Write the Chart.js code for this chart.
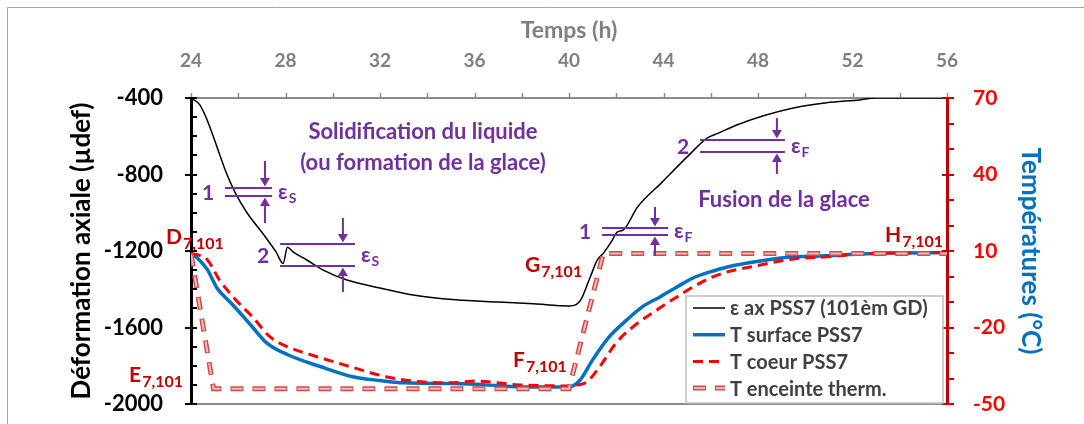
<!DOCTYPE html>
<html><head><meta charset="utf-8">
<script src="https://cdn.jsdelivr.net/npm/chart.js@4.4.1/dist/chart.umd.min.js"></script>
<style>html,body{margin:0;padding:0;background:#fff}#wrap{width:1084px;height:424px;position:relative}</style>
</head><body><div id="wrap"><canvas id="c" width="1084" height="424"></canvas></div>
<script>
// ---------- DATA ----------
const timeTicks  = [24, 28, 32, 36, 40, 44, 48, 52, 56];
const strainTicks = [-2000, -1600, -1200, -800, -400];
const tempTicks  = [-50, -20, 10, 40, 70];

const strainTime   = [24.0, 24.38, 24.7, 25.1, 25.48, 25.86, 26.37, 27.05, 27.6, 27.9, 28.08, 28.32, 28.9, 29.6, 30.6, 32.0, 33.4, 35.2, 37.0, 38.5, 40.0, 40.3, 40.5, 40.9, 41.2, 41.46, 41.8, 42.05, 42.3, 42.9, 43.9, 45.0, 45.86, 46.3, 47.1, 48.3, 49.5, 50.9, 52.3, 53.0, 56.0];
const strainValues = [-400, -437, -520, -656, -787, -892, -1000, -1110, -1205, -1265, -1180, -1205, -1247, -1300, -1352, -1393, -1430, -1455, -1467, -1476, -1487, -1480, -1456, -1336, -1247, -1211, -1150, -1100, -1090, -970, -845, -708, -609, -585, -541, -490, -452, -425, -410, -400, -400];

const surfTime   = [24.0, 24.3, 24.7, 25.1, 25.65, 26.1, 26.6, 27.2, 28.1, 29.5, 30.9, 32.0, 33.0, 35.1, 36.5, 37.9, 40.0, 40.47, 41.0, 41.7, 42.45, 43.1, 43.85, 44.57, 45.25, 45.97, 46.7, 48.1, 49.5, 50.9, 52.3, 53.7, 56.0];
const surfValues = [9, 7, 2.6, -4.5, -10, -14.5, -19.8, -26, -30.7, -35.4, -39.4, -40.8, -41.7, -42, -42.5, -43.3, -43.3, -40.6, -32.7, -23.7, -17, -11.9, -8, -4.1, -0.6, 1.8, 3.75, 6.1, 7.7, 8.1, 8.8, 9.2, 9.4];

const coreTime   = [24.0, 24.3, 24.7, 25.2, 25.9, 26.6, 27.35, 28.1, 29.5, 30.9, 32.3, 33.7, 35.1, 36.0, 37.9, 40.06, 40.4, 40.76, 41.3, 42.0, 42.7, 43.85, 44.57, 45.25, 45.97, 46.7, 48.1, 49.5, 50.9, 52.3, 53.7, 56.0];
const coreValues = [9, 8.5, 6.5, -1.3, -9.2, -15.8, -23.7, -27.6, -31.9, -35.8, -39.4, -41.3, -41.7, -41.0, -42.5, -42.9, -42.5, -41.3, -35.4, -26, -19.8, -12.3, -8, -4.1, -0.6, 1.8, 4.5, 6.9, 7.7, 8.8, 9.2, 9.4];

const chamberTime   = [24.0, 24.95, 40.0, 41.45, 56.0];
const chamberValues = [9, -44, -44, 9, 9];

const seriesLabels = ['ε ax PSS7 (101èm GD)', 'T surface PSS7', 'T coeur PSS7', 'T enceinte therm.'];

// ---------- ANNOTATIONS (data coords: time, strain) ----------
const brackets = [
  {num:'1', sub:'S', t1:25.44, t2:27.43, sTop:-871,  sBot:-912,  tArrow:27.13, len:27},
  {num:'2', sub:'S', t1:27.77, t2:30.94, sTop:-1163, sBot:-1278, tArrow:30.43, len:26},
  {num:'2', sub:'F', t1:45.55, t2:49.14, sTop:-620,  sBot:-682,  tArrow:48.80, len:22},
  {num:'1', sub:'F', t1:41.40, t2:44.19, sTop:-1080, sBot:-1116, tArrow:43.64, len:21}
];
const notes = [
  {text:'Solidification du liquide', t:33.82, s:-578},
  {text:'(ou formation de la glace)', t:33.82, s:-740},
  {text:'Fusion de la glace', t:49.10, s:-933}
];
const points = [
  {letter:'D', t:22.94, s:-1163},
  {letter:'E', t:21.38, s:-1885},
  {letter:'F', t:37.63, s:-1807},
  {letter:'G', t:38.14, s:-1310},
  {letter:'H', t:53.38, s:-1153}
];

const FONT = "Lato, 'Open Sans', 'DejaVu Sans', sans-serif";
const PURPLE = '#7030A0', DARKRED = '#C00000';
const toPts = (xs, ys) => xs.map((x, i) => ({x: x, y: ys[i]}));

const decor = {
  id: 'decor',
  beforeDraw(chart) {
    const ctx = chart.ctx;
    ctx.save();
    ctx.strokeStyle = '#a6a6a6'; ctx.lineWidth = 1;
    ctx.beginPath(); ctx.moveTo(7.5, 424); ctx.lineTo(7.5, 7.5); ctx.lineTo(1084, 7.5); ctx.stroke();
    ctx.restore();
  },
  afterDraw(chart) {
    const ctx = chart.ctx, ca = chart.chartArea;
    const X = chart.scales.x, Y = chart.scales.y, Y2 = chart.scales.y2;
    ctx.save();
    // top ticks
    ctx.strokeStyle = '#8c8c8c'; ctx.lineWidth = 1.5;
    for (let t = 24; t <= 56; t += 2) {
      const px = Math.round(X.getPixelForValue(t)) + 0.5;
      ctx.beginPath(); ctx.moveTo(px, ca.top); ctx.lineTo(px, ca.top - 5); ctx.stroke();
    }
    // left ticks
    ctx.strokeStyle = '#000'; ctx.lineWidth = 2;
    for (let v = -2000; v <= -400; v += 100) {
      const py = Math.round(Y.getPixelForValue(v));
      const major = (v % 400 === 0);
      ctx.beginPath(); ctx.moveTo(ca.left - (major ? 6 : 0), py); ctx.lineTo(ca.left + 6, py); ctx.stroke();
    }
    // right ticks
    ctx.strokeStyle = DARKRED; ctx.lineWidth = 2;
    for (let v = -50; v <= 70; v += 10) {
      const py = Math.round(Y2.getPixelForValue(v));
      const major = ((v + 50) % 30 === 0);
      ctx.beginPath(); ctx.moveTo(ca.right - (major ? 5 : 0), py); ctx.lineTo(ca.right + 7, py); ctx.stroke();
    }
    // brackets
    ctx.strokeStyle = PURPLE; ctx.fillStyle = PURPLE; ctx.lineWidth = 2;
    brackets.forEach(b => {
      const x1 = X.getPixelForValue(b.t1), x2 = X.getPixelForValue(b.t2);
      const yT = Y.getPixelForValue(b.sTop), yB = Y.getPixelForValue(b.sBot);
      const ax = X.getPixelForValue(b.tArrow);
      ctx.beginPath();
      ctx.moveTo(x1, yT); ctx.lineTo(x2, yT);
      ctx.moveTo(x1, yB); ctx.lineTo(x2, yB);
      ctx.moveTo(ax, yT - b.len); ctx.lineTo(ax, yT - 8);
      ctx.moveTo(ax, yB + b.len); ctx.lineTo(ax, yB + 8);
      ctx.stroke();
      ctx.beginPath();
      ctx.moveTo(ax, yT - 1.5); ctx.lineTo(ax - 5, yT - 10); ctx.lineTo(ax + 5, yT - 10); ctx.closePath(); ctx.fill();
      ctx.beginPath();
      ctx.moveTo(ax, yB + 1.5); ctx.lineTo(ax - 5, yB + 10); ctx.lineTo(ax + 5, yB + 10); ctx.closePath(); ctx.fill();
      const ym = (yT + yB) / 2;
      ctx.textBaseline = 'middle';
      ctx.font = 'bold 21px ' + FONT; ctx.textAlign = 'center';
      ctx.fillText(b.num, x1 - 17, ym + 1);
      ctx.textAlign = 'left';
      ctx.font = 'bold 21px ' + FONT;
      ctx.fillText('ε', x2 + 6, ym);
      const w = ctx.measureText('ε').width;
      ctx.font = 'bold 14px ' + FONT; ctx.textBaseline = 'alphabetic';
      ctx.fillText(b.sub, x2 + 7 + w, ym + 11);
    });
    // notes
    ctx.font = 'bold 22px ' + FONT; ctx.textAlign = 'center'; ctx.textBaseline = 'middle';
    notes.forEach(n => ctx.fillText(n.text, X.getPixelForValue(n.t), Y.getPixelForValue(n.s)));
    // point labels
    ctx.fillStyle = DARKRED; ctx.textAlign = 'left'; ctx.textBaseline = 'alphabetic';
    points.forEach(p => {
      const px = X.getPixelForValue(p.t), py = Y.getPixelForValue(p.s);
      ctx.font = 'bold 21px ' + FONT;
      ctx.fillText(p.letter, px, py);
      const w = ctx.measureText(p.letter).width;
      ctx.font = 'bold 16px ' + FONT;
      ctx.fillText('7,101', px + w + 1, py + 5);
    });
    // legend
    const L = {x: ca.right - 261, y: ca.bottom - 108, w: 257, h: 107};
    ctx.fillStyle = '#fff'; ctx.fillRect(L.x, L.y, L.w, L.h);
    ctx.strokeStyle = '#bfbfbf'; ctx.lineWidth = 1.5; ctx.strokeRect(L.x, L.y, L.w, L.h);
    const ds = chart.data.datasets;
    seriesLabels.forEach((lab, i) => {
      const cy = L.y + 12 + i * 26.7;
      const d = ds[i];
      const xs = L.x + 7, xe = L.x + 39;
      ctx.lineCap = 'butt';
      ctx.strokeStyle = d.borderColor; ctx.lineWidth = d.borderWidth;
      ctx.setLineDash(d.borderDash || []); ctx.lineDashOffset = 0;
      ctx.beginPath(); ctx.moveTo(xs, cy); ctx.lineTo(xe, cy); ctx.stroke();
      if (i === 3) {
        const inner = ds[4];
        ctx.strokeStyle = inner.borderColor; ctx.lineWidth = inner.borderWidth;
        ctx.setLineDash(inner.borderDash); ctx.lineDashOffset = inner.borderDashOffset;
        ctx.beginPath(); ctx.moveTo(xs, cy); ctx.lineTo(xe, cy); ctx.stroke();
      }
      ctx.setLineDash([]); ctx.lineDashOffset = 0;
      ctx.fillStyle = '#404040'; ctx.font = 'bold 20px ' + FONT; ctx.textBaseline = 'middle';
      ctx.fillText(lab, L.x + 44, cy + 1);
    });
    ctx.restore();
  }
};

const tickSetter = arr => s => { s.ticks = arr.map(v => ({value: v})); };
const plain = v => String(v);
const fitV = w => s => { s.width = w; s.paddingTop = 0; s.paddingBottom = 0; };
const fitH = h => s => { s.height = h; s.paddingLeft = 0; s.paddingRight = 0; };

new Chart(document.getElementById('c'), {
  type: 'line',
  data: {
    datasets: [
      {label: seriesLabels[0], data: toPts(strainTime, strainValues), yAxisID: 'y', borderColor: '#000000', borderWidth: 1.5, pointRadius: 0, cubicInterpolationMode: 'monotone', order: 5},
      {label: seriesLabels[1], data: toPts(surfTime, surfValues), yAxisID: 'y2', borderColor: '#0070C0', borderWidth: 3.5, pointRadius: 0, cubicInterpolationMode: 'monotone', order: 4},
      {label: seriesLabels[2], data: toPts(coreTime, coreValues), yAxisID: 'y2', borderColor: '#FF0000', borderWidth: 3, borderDash: [10, 6], pointRadius: 0, cubicInterpolationMode: 'monotone', order: 3},
      {label: seriesLabels[3], data: toPts(chamberTime, chamberValues), yAxisID: 'y2', borderColor: '#d24b4b', borderWidth: 5, borderDash: [13, 9], pointRadius: 0, tension: 0, order: 2},
      {label: '', data: toPts(chamberTime, chamberValues), yAxisID: 'y2', borderColor: '#f6b9b9', borderWidth: 2, borderDash: [11, 11], borderDashOffset: -1, pointRadius: 0, tension: 0, order: 1}
    ]
  },
  options: {
    responsive: false, animation: false, devicePixelRatio: 1,
    layout: {padding: {left: 66, right: 38, top: 17, bottom: 0}},
    plugins: {legend: {display: false}, tooltip: {enabled: false}},
    scales: {
      x: {type: 'linear', position: 'top', min: 24, max: 56,
          afterBuildTicks: tickSetter(timeTicks), afterFit: fitH(81),
          grid: {display: false, drawTicks: false},
          border: {display: true, color: '#8c8c8c', width: 2},
          ticks: {color: '#7f7f7f', padding: 26, callback: plain, font: {family: FONT, size: 19, weight: 'bold'}},
          title: {display: true, text: 'Temps (h)', color: '#7f7f7f', padding: 0, font: {family: FONT, size: 23, weight: 'bold'}}},
      xb: {type: 'linear', position: 'bottom', min: 24, max: 56,
          afterFit: fitH(20),
          grid: {display: false, drawTicks: false}, ticks: {display: false},
          border: {display: true, color: '#8c8c8c', width: 2}},
      y: {type: 'linear', position: 'left', min: -2000, max: -400,
          afterBuildTicks: tickSetter(strainTicks), afterFit: fitV(125),
          grid: {display: false, drawTicks: false},
          border: {display: true, color: '#000000', width: 3},
          ticks: {color: '#000000', padding: 28, callback: plain, font: {family: FONT, size: 22, weight: 'bold'}},
          title: {display: true, text: 'Déformation axiale (µdef)', color: '#000000', padding: 0, font: {family: FONT, size: 26, weight: 'bold'}}},
      y2: {type: 'linear', position: 'right', min: -50, max: 70,
          afterBuildTicks: tickSetter(tempTicks), afterFit: fitV(99),
          grid: {display: false, drawTicks: false},
          border: {display: true, color: DARKRED, width: 3},
          ticks: {color: '#FF0000', padding: 26, callback: plain, font: {family: FONT, size: 21, weight: 'bold'}},
          title: {display: true, text: 'Températures (°C)', color: '#0070C0', padding: 0, font: {family: FONT, size: 26, weight: 'bold'}}}
    }
  },
  plugins: [decor]
});
</script>
</body></html>
